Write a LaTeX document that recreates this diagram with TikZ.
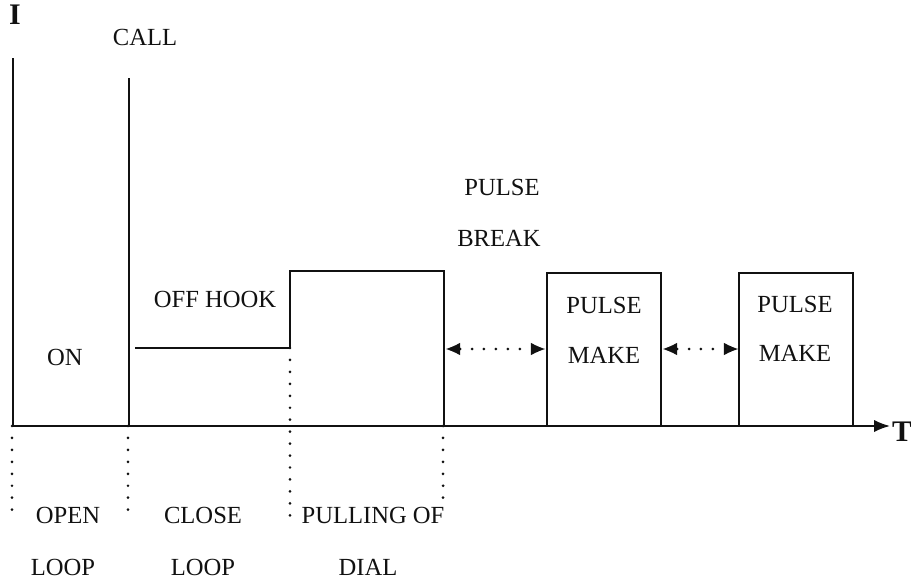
\documentclass[tikz,border=0pt]{standalone}
\usepackage{fontspec}
\setmainfont{Liberation Serif}
\usepackage{tikz}
\usetikzlibrary{arrows.meta}
\definecolor{sigblack}{HTML}{111111}
\tikzset{
  sigline/.style={sigblack,line width=1.1pt},
  dotline/.style={sigblack,line width=1.7pt,line cap=round,dash pattern=on 0pt off 6.8pt},
  gaparrow/.style={dotline,{Latex[length=8pt,width=7pt,line width=0pt]}-{Latex[length=8pt,width=7pt,line width=0pt]}},
  lbl/.style={font=\fontsize{14}{16}\selectfont,inner sep=0pt,text=sigblack},
  axlbl/.style={lbl,font=\fontsize{17}{19}\selectfont\bfseries}
}

\begin{document}
\begin{tikzpicture}[x=1cm,y=1cm]
  \useasboundingbox (0,0) rectangle (18.22,11.6);
  \draw[sigline,-{Latex[length=9pt,width=7pt]}] (0.24,3.08) -- (17.8,3.08);
  \draw[sigline] (0.26,3.08) -- (0.26,10.44);
  \draw[sigline] (2.58,3.08) -- (2.58,10.04);
  \draw[sigline] (2.7,4.64) -- (5.8,4.64) -- (5.8,6.18) -- (8.88,6.18) -- (8.88,3.08);
  \draw[sigline] (10.94,3.08) rectangle (13.22,6.14);
  \draw[sigline] (14.78,3.08) rectangle (17.06,6.14);
  \draw[dotline] (0.24,3.08) -- (0.24,1.2);
  \draw[dotline] (2.56,3.08) -- (2.56,1.2);
  \draw[dotline] (5.8,4.64) -- (5.8,1.2);
  \draw[dotline] (8.86,3.08) -- (8.86,1.54);
  \coordinate (brk1a) at (8.92,4.62);
  \coordinate (brk1b) at (10.9,4.62);
  \coordinate (brk2a) at (13.26,4.62);
  \coordinate (brk2b) at (14.76,4.62);
  \draw[gaparrow] (brk1a) -- (brk1b);
  \draw[gaparrow] (brk2a) -- (brk2b);
  \node[axlbl] (ilabel) at (0.3,11.3) {I};
  \node[axlbl] (tlabel) at (18.04,2.96) {T};
  \node[lbl] (call) at (2.9,10.86) {CALL};
  \node[lbl] (on) at (1.3,4.46) {ON};
  \node[lbl] (offhook) at (4.3,5.62) {OFF HOOK};
  \node[lbl] (pulsebrk) at (10.04,7.86) {PULSE};
  \node[lbl] (brk) at (9.98,6.84) {BREAK};
  \node[lbl] (pulse1) at (12.08,5.5) {PULSE};
  \node[lbl] (make1) at (12.08,4.5) {MAKE};
  \node[lbl] (pulse2) at (15.9,5.52) {PULSE};
  \node[lbl] (make2) at (15.9,4.54) {MAKE};
  \node[lbl] (open) at (1.36,1.3) {OPEN};
  \node[lbl] (loop1) at (1.26,0.26) {LOOP};
  \node[lbl] (close) at (4.06,1.3) {CLOSE};
  \node[lbl] (loop2) at (4.06,0.26) {LOOP};
  \node[lbl] (pulling) at (7.46,1.3) {PULLING OF};
  \node[lbl] (dial) at (7.36,0.26) {DIAL};
\end{tikzpicture}
\end{document}
